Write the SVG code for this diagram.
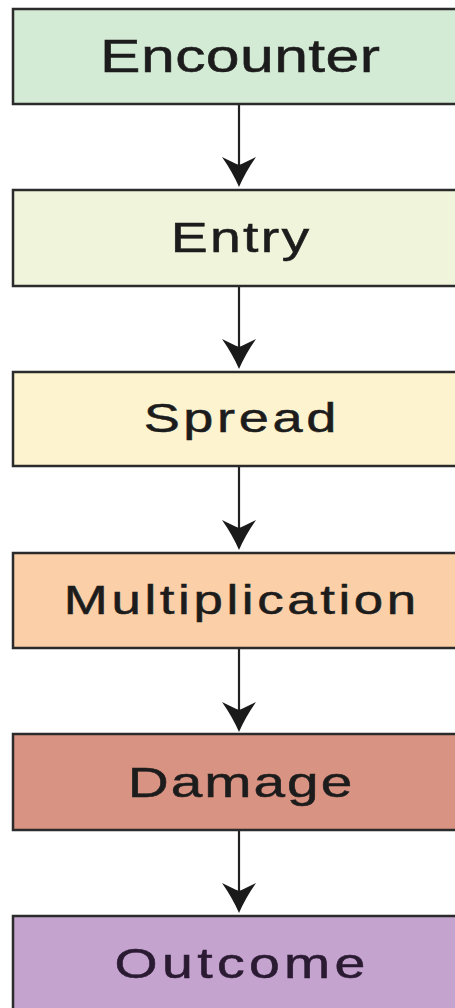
<svg xmlns="http://www.w3.org/2000/svg" width="455" height="1008" viewBox="0 0 455 1008">
  <style>
    .box { stroke: #2b2b2b; stroke-width: 2.5; }
    .label { font-family: "Liberation Sans", Arial, sans-serif; fill: #1c1c1c; stroke: #1c1c1c; stroke-width: 0.5; text-anchor: middle; }
    .link { stroke: #222; stroke-width: 2.2; fill: none; marker-end: url(#head); }
  </style>
  <defs>
    <!-- notched arrowhead with slightly concave sides -->
    <marker id="head" markerUnits="userSpaceOnUse" viewBox="0 0 30 34" markerWidth="30" markerHeight="34" refX="24" refY="17" orient="auto">
      <path d="M30,17 Q15,10.5 0,0 Q5,10 8,17 Q5,24 0,34 Q15,23.5 30,17 Z" fill="#1a1a1a"/>
    </marker>
  </defs>

  <rect width="455" height="1008" fill="#ffffff"/>

  <g id="connectors">
    <line class="link" x1="239" y1="104" x2="239" y2="181"/>
    <line class="link" x1="239" y1="286" x2="239" y2="363"/>
    <line class="link" x1="239" y1="466" x2="239" y2="544"/>
    <line class="link" x1="239" y1="648" x2="239" y2="726"/>
    <line class="link" x1="239" y1="830" x2="239" y2="907"/>
  </g>

  <g id="encounter">
    <rect class="box" x="13" y="9" width="470" height="95" fill="#d3ead5"/>
    <text class="label" font-size="46" textLength="212" lengthAdjust="spacing" transform="translate(240,72) scale(1.32,1)">Encounter</text>
  </g>

  <g id="entry">
    <rect class="box" x="13" y="190" width="470" height="96" fill="#f0f4da"/>
    <text class="label" font-size="42" textLength="105" lengthAdjust="spacing" transform="translate(240,252) scale(1.32,1)">Entry</text>
  </g>

  <g id="spread">
    <rect class="box" x="13" y="372" width="470" height="94" fill="#fdf3cf"/>
    <text class="label" font-size="41" textLength="146" lengthAdjust="spacing" transform="translate(240,432) scale(1.32,1)">Spread</text>
  </g>

  <g id="multiplication">
    <rect class="box" x="13" y="553" width="470" height="95" fill="#fbcfa7"/>
    <text class="label" font-size="40" textLength="267" lengthAdjust="spacing" transform="translate(240,614) scale(1.32,1)">Multiplication</text>
  </g>

  <g id="damage">
    <rect class="box" x="13" y="734" width="470" height="96" fill="#d99383"/>
    <text class="label" font-size="43" textLength="170" lengthAdjust="spacing" transform="translate(240,797) scale(1.32,1)">Damage</text>
  </g>

  <g id="outcome">
    <rect class="box" x="13" y="916" width="470" height="100" fill="#c4a3cf"/>
    <text class="label" font-size="42" textLength="190" lengthAdjust="spacing" style="fill:#2a1a32;stroke:#2a1a32" transform="translate(240,978) scale(1.32,1)">Outcome</text>
  </g>
</svg>
